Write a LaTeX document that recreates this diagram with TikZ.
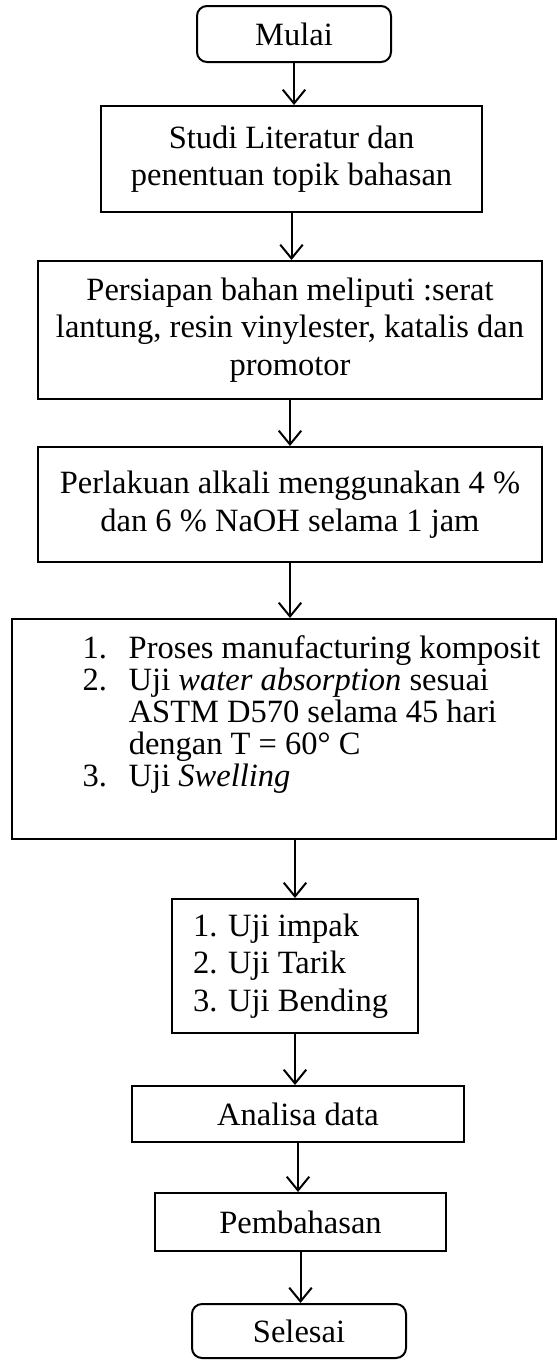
\documentclass[tikz,border=0pt]{standalone}
\usepackage{fontspec}
\setmainfont{Liberation Serif}
\usetikzlibrary{arrows.meta}
\begin{document}
\begin{tikzpicture}[x=0.4pt,y=-0.4pt,
  base/.style={draw, line width=0.8pt, inner sep=0pt, align=center,
    font=\fontsize{13}{15}\selectfont},
  term/.style={base, rounded corners=4pt},
  arr/.style={draw, line width=0.8pt, -{Straight Barb[length=5.5pt,width=9pt,line width=0.8pt]}}]
\useasboundingbox (0,0) rectangle (558,1360);
\node[term, minimum width=194*0.4pt, minimum height=56*0.4pt] (mulai) at (294,34) {Mulai};
\node[base, minimum width=381*0.4pt, minimum height=106*0.4pt] (b2) at (291.5,159) {Studi Literatur dan\\penentuan topik bahasan};
\node[base, minimum width=504*0.4pt, minimum height=138*0.4pt] (b3) at (290,330) {Persiapan bahan meliputi :serat\\lantung, resin vinylester, katalis dan\\promotor};
\node[base, minimum width=504*0.4pt, minimum height=115*0.4pt] (b4) at (290,504.5) {Perlakuan alkali menggunakan 4 \%\\dan 6 \% NaOH selama 1 jam};
\node[base, minimum width=544*0.4pt, minimum height=220*0.4pt] (b5) at (284,729) {};
\node[anchor=north west, inner sep=0pt, font=\fontsize{13}{12.6}\selectfont] (t5) at (82,635.5)
  {\begin{tabular}{@{}p{18.5pt}@{}l@{}}
   1. & Proses manufacturing komposit\\
   2. & Uji \textit{water absorption} sesuai\\
      & ASTM D570 selama 45 hari\\
      & dengan T = 60° C\\
   3. & Uji \textit{Swelling}
   \end{tabular}};
\node[base, align=flush left, text width=204*0.4pt, inner xsep=21*0.4pt, minimum height=134*0.4pt] (b6) at (295,966) {1. Uji impak\\2. Uji Tarik\\3. Uji Bending};
\node[base, minimum width=332*0.4pt, minimum height=56*0.4pt] (b7) at (298,1114) {Analisa data};
\node[base, minimum width=291*0.4pt, minimum height=58*0.4pt] (b8) at (300.5,1222) {Pembahasan};
\node[term, minimum width=214*0.4pt, minimum height=54*0.4pt] (selesai) at (299,1331) {Selesai};
\draw[arr] (mulai.south) -- (mulai.south |- b2.north);
\draw[arr] (b2.south) -- (b2.south |- b3.north);
\draw[arr] (b3.south) -- (b3.south |- b4.north);
\draw[arr] (b4.south) -- (b4.south |- b5.north);
\draw[arr] (b6.north |- b5.south) -- (b6.north);
\draw[arr] (b6.south) -- (b6.south |- b7.north);
\draw[arr] (b7.south) -- (b7.south |- b8.north);
\draw[arr] (b8.south) -- (b8.south |- selesai.north);
\end{tikzpicture}
\end{document}
